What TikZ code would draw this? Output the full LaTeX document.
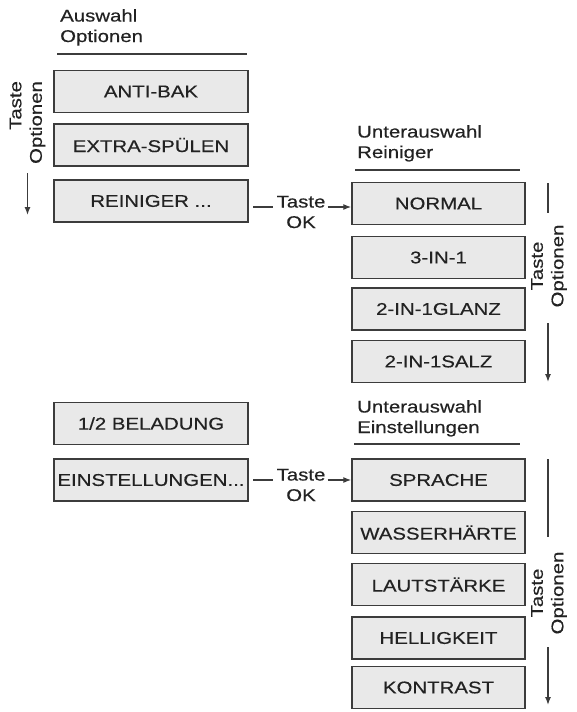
\documentclass[tikz,border=0pt]{standalone}
\usepackage{fontspec}
\setmainfont{Liberation Sans}[FakeStretch=1.2, FakeBold=0.4]
\usetikzlibrary{arrows.meta}

\definecolor{boxfill}{HTML}{E9E9E9}
\definecolor{boxline}{HTML}{3C3C3C}
\definecolor{ink}{HTML}{222222}

\begin{document}
\begin{tikzpicture}[x=1pt, y=-1pt,
    every node/.style={text=ink, font=\fontsize{17}{20.5}\selectfont},
    menubox/.style={draw=boxline, fill=boxfill, line width=1.4pt, inner sep=0pt, minimum height=42pt},
    leftbox/.style={menubox, minimum width=194pt},
    rightbox/.style={menubox, minimum width=173pt},
    heading/.style={anchor=north west, align=left, inner sep=0pt},
    keylabel/.style={align=center, inner sep=0pt},
    rule/.style={draw=boxline, line width=1.3pt},
    arr/.style={draw=boxline, line width=1.3pt, -{Latex[length=8pt,width=6pt]}}]
      \useasboundingbox (0,0) rectangle (576,712);
      % main menu
      \node[heading] (h1) at (60,9) {Auswahl\\Optionen};
      \draw[rule] (57,54) -- (247,54);
      \node[leftbox] (o1) at (151,91.5) {ANTI-BAK};
      \node[leftbox] (o2) at (151,145) {EXTRA-SPÜLEN};
      \node[leftbox] (o3) at (151,201) {REINIGER ...};
      \node[leftbox] (o4) at (151,423.5) {1/2 BELADUNG};
      \node[leftbox] (o5) at (151,480) {EINSTELLUNGEN...};
      \node[keylabel, rotate=90, align=right] (k1) at (27.5,122.5) {Taste\\Optionen};
        \coordinate (k1end) at (27.5,215);
        \draw[arr, shorten <=9pt] (k1.west) -- (k1end);
      % submenu Reiniger
      \node[heading] (h2) at (357,125) {Unterauswahl\\Reiniger};
      \draw[rule] (355,170) -- (520,170);
      \node[rightbox] (r1) at (438.5,203.5) {NORMAL};
      \node[rightbox] (r2) at (438.5,257.5) {3-IN-1};
      \node[rightbox] (r3) at (438.5,309) {2-IN-1GLANZ};
      \node[rightbox] (r4) at (438.5,361.5) {2-IN-1SALZ};
      \node[keylabel, rotate=90] (k2) at (549,266) {Taste\\Optionen};
        \coordinate (k2top) at (548,183);
        \coordinate (k2end) at (548,382);
        \draw[rule] (k2top) -- (548,213);
        \draw[arr] (548,323) -- (k2end);
      \node[keylabel] (ok1) at (301,212) {Taste\\OK};
        \coordinate (ok1in) at (253,207);
        \draw[rule] (ok1in) -- ([xshift=-3pt]ok1.west |- ok1in);
        \draw[arr] ([xshift=2pt]ok1.east |- ok1in) -- (r1.west |- ok1in);
      % submenu Einstellungen
      \node[heading] (h3) at (357,400) {Unterauswahl\\Einstellungen};
      \draw[rule] (354,444) -- (520,444);
      \node[rightbox] (e1) at (438.5,480) {SPRACHE};
      \node[rightbox] (e2) at (438.5,532.5) {WASSERHÄRTE};
      \node[rightbox] (e3) at (438.5,584.5) {LAUTSTÄRKE};
      \node[rightbox] (e4) at (438.5,638) {HELLIGKEIT};
      \node[rightbox] (e5) at (438.5,687.5) {KONTRAST};
      \node[keylabel, rotate=90] (k3) at (549,593) {Taste\\Optionen};
        \coordinate (k3top) at (548,459);
        \coordinate (k3end) at (548,705);
        \draw[rule] (k3top) -- (548,537);
        \draw[arr] (548,647) -- (k3end);
      \node[keylabel] (ok2) at (301,485) {Taste\\OK};
        \coordinate (ok2in) at (253,480);
        \draw[rule] (ok2in) -- ([xshift=-3pt]ok2.west |- ok2in);
        \draw[arr] ([xshift=2pt]ok2.east |- ok2in) -- (e1.west |- ok2in);
    \end{tikzpicture}
\end{document}
